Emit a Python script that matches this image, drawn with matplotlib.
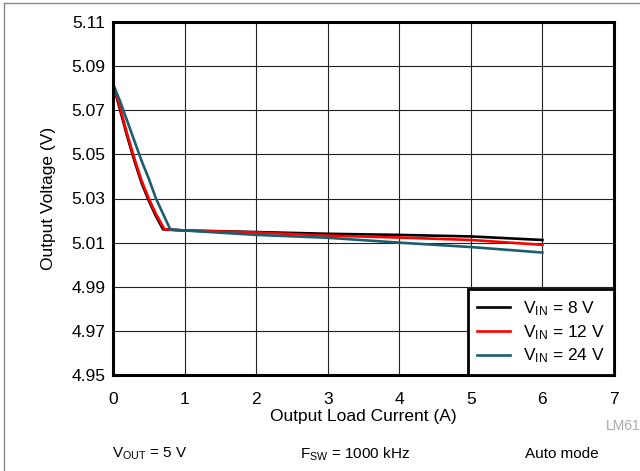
import numpy as np
import matplotlib
matplotlib.use('Agg')
import matplotlib.pyplot as plt
from matplotlib.lines import Line2D

plt.rcParams['font.family'] = ['Liberation Sans', 'DejaVu Sans']
plt.rcParams['mathtext.fontset'] = 'custom'
plt.rcParams['mathtext.rm'] = 'Liberation Sans'
plt.rcParams['mathtext.it'] = 'Liberation Sans'

# data
x_8v = [0, 0.1, 0.2, 0.3, 0.4, 0.5, 0.6, 0.70, 1, 2, 3, 4, 5, 6]
v_8v = [5.082, 5.070, 5.058, 5.047, 5.037, 5.029, 5.022, 5.016,
        5.0155, 5.0148, 5.0140, 5.0135, 5.0128, 5.0112]
x_12v = [0, 0.1, 0.2, 0.3, 0.4, 0.5, 0.6, 0.72, 1, 2, 3, 4, 5, 6]
v_12v = [5.082, 5.071, 5.059, 5.048, 5.038, 5.030, 5.023, 5.016,
         5.0155, 5.0146, 5.0132, 5.0123, 5.0112, 5.0090]
x_24v = [0, 0.1, 0.2, 0.3, 0.4, 0.5, 0.6, 0.80, 1, 2, 3, 4, 5, 6]
v_24v = [5.082, 5.074, 5.065, 5.056, 5.047, 5.039, 5.030, 5.016,
         5.0155, 5.0135, 5.0122, 5.0100, 5.0080, 5.0055]

labels = [r'V$_{\mathrm{IN}}$ = 8 V', r'V$_{\mathrm{IN}}$ = 12 V', r'V$_{\mathrm{IN}}$ = 24 V']
colors = ['#000000', '#ff0000', '#1b5f6e']

xticks = [0, 1, 2, 3, 4, 5, 6, 7]
yticks = [4.95, 4.97, 4.99, 5.01, 5.03, 5.05, 5.07, 5.09, 5.11]

fontsize = 12.5

fig = plt.figure(figsize=(6.4, 4.71), dpi=100)
ax = fig.add_axes([113/640, 1 - 375/471, (614-113)/640, (375-22)/471])

curves = [(x_8v, v_8v), (x_12v, v_12v), (x_24v, v_24v)]
for (x, y), lab, col in zip(curves, labels, colors):
    ax.plot(x, y, color=col, linewidth=1.9, label=lab)

ax.set_xlim(0, 7)
ax.set_ylim(4.95, 5.11)
ax.set_xticks(xticks)
ax.set_yticks(yticks)
ax.set_yticklabels(['%.2f' % t for t in yticks])
ax.tick_params(length=0, labelsize=fontsize)
ax.tick_params(axis='x', pad=12)
ax.tick_params(axis='y', pad=5.5)
ax.grid(True, color='#222222', linewidth=0.8)
ax.set_axisbelow(True)
for s in ax.spines.values():
    s.set_linewidth(2.2)

ax.set_xlabel('Output Load Current (A)', fontsize=fontsize, labelpad=2)
ax.set_ylabel('Output Voltage (V)', fontsize=fontsize, labelpad=11)

leg = ax.legend(loc='lower right', fontsize=fontsize, handlelength=1.9,
                borderaxespad=0, fancybox=False, framealpha=1,
                labelspacing=0.3, handletextpad=0.7, borderpad=0.55)
leg.get_frame().set_edgecolor('black')
leg.get_frame().set_linewidth(2.0)

# notes below the chart
fig.text(606/640, 1 - 426/471, 'LM61', fontsize=10, color='#aaaaaa', va='center')
fig.text(150/640, 1 - 454/471, r'V$_{\mathrm{OUT}}$ = 5 V', fontsize=11, ha='center', va='center')
fig.text(355/640, 1 - 454/471, r'F$_{\mathrm{SW}}$ = 1000 kHz', fontsize=11, ha='center', va='center')
fig.text(562/640, 1 - 454/471, 'Auto mode', fontsize=11, ha='center', va='center')

# page border
fig.add_artist(Line2D([4/640, 4/640], [0, 1 - 3/471], transform=fig.transFigure,
                      color='#888888', linewidth=1))
fig.add_artist(Line2D([4/640, 1], [1 - 3/471, 1 - 3/471], transform=fig.transFigure,
                      color='#888888', linewidth=1))

fig.savefig('out.png', dpi=100)
